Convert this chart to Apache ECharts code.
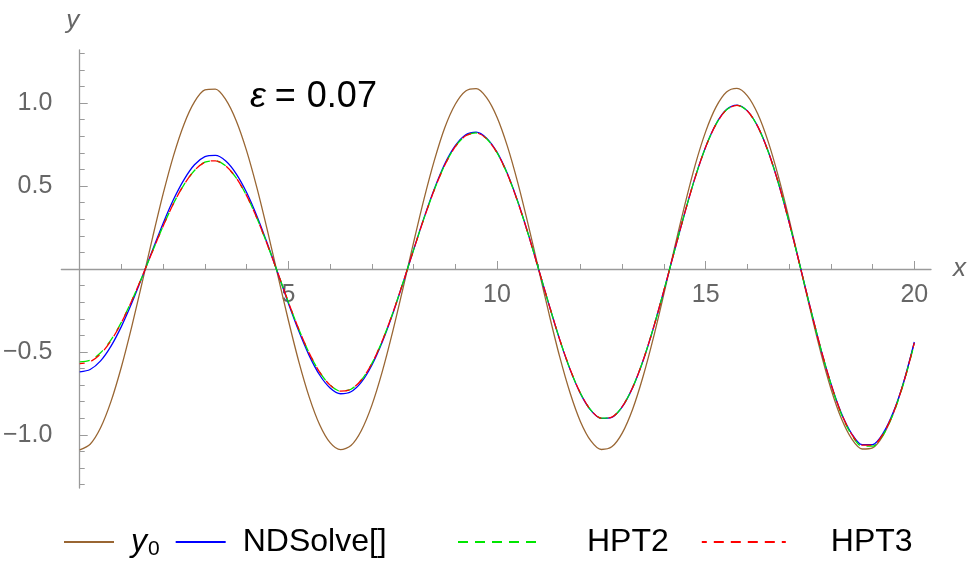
<!DOCTYPE html>
<html lang="en">
<head>
<meta charset="UTF-8">
<title>epsilon = 0.07</title>
<script src="https://cdn.jsdelivr.net/npm/echarts@6.0.0/dist/echarts.min.js"></script>
<style>
  html, body { margin: 0; padding: 0; background: #fff; }
  #main { width: 969px; height: 561px; }
</style>
</head>
<body>
<div id="main"></div>
<script>
// values, x step 0.25
var xs = [0, 0.25, 0.5, 0.75, 1, 1.25, 1.5, 1.75, 2, 2.25, 2.5, 2.75, 3, 3.25, 3.5, 3.75, 4, 4.25, 4.5, 4.75,
          5, 5.25, 5.5, 5.75, 6, 6.25, 6.5, 6.75, 7, 7.25, 7.5, 7.75, 8, 8.25, 8.5, 8.75, 9, 9.25, 9.5, 9.75,
          10, 10.25, 10.5, 10.75, 11, 11.25, 11.5, 11.75, 12, 12.25, 12.5, 12.75, 13, 13.25, 13.5, 13.75, 14, 14.25, 14.5, 14.75,
          15, 15.25, 15.5, 15.75, 16, 16.25, 16.5, 16.75, 17, 17.25, 17.5, 17.75, 18, 18.25, 18.5, 18.75, 19, 19.25, 19.5, 19.75, 20];
var y0 = [-1.090, -1.056, -0.957, -0.798, -0.589, -0.344, -0.077, 0.194, 0.454, 0.685,
          0.873, 1.007, 1.079, 1.084, 1.021, 0.894, 0.712, 0.486, 0.230, -0.041,
          -0.309, -0.558, -0.772, -0.939, -1.047, -1.089, -1.064, -0.973, -0.822, -0.619,
          -0.378, -0.113, 0.159, 0.421, 0.656, 0.853, 0.993, 1.073, 1.087, 1.033,
          0.915, 0.739, 0.518, 0.265, -0.005, -0.274, -0.527, -0.746, -0.920, -1.036,
          -1.088, -1.072, -0.989, -0.845, -0.648, -0.412, -0.149, 0.123, 0.387, 0.628,
          0.828, 0.977, 1.067, 1.089, 1.044, 0.934, 0.766, 0.550, 0.300, 0.031,
          -0.239, -0.495, -0.720, -0.900, -1.024, -1.085, -1.078, -1.004, -0.868, -0.678,
          -0.445];
var ndsolve = [-0.620, -0.606, -0.554, -0.465, -0.346, -0.204, -0.046, 0.117, 0.276, 0.420,
          0.539, 0.628, 0.677, 0.685, 0.651, 0.574, 0.461, 0.317, 0.151, -0.027,
          -0.206, -0.374, -0.522, -0.639, -0.717, -0.752, -0.740, -0.682, -0.580, -0.440,
          -0.271, -0.082, 0.115, 0.308, 0.484, 0.634, 0.743, 0.809, 0.825, 0.789,
          0.704, 0.574, 0.405, 0.209, -0.004, -0.219, -0.424, -0.605, -0.751, -0.852,
          -0.900, -0.894, -0.831, -0.715, -0.553, -0.354, -0.129, 0.107, 0.339, 0.554,
          0.736, 0.875, 0.961, 0.988, 0.953, 0.858, 0.708, 0.512, 0.281, 0.030,
          -0.226, -0.472, -0.690, -0.868, -0.993, -1.059, -1.058, -0.991, -0.861, -0.677,
          -0.440];
var hpt2 = [-0.560, -0.550, -0.505, -0.427, -0.320, -0.189, -0.043, 0.110, 0.259, 0.396,
          0.509, 0.594, 0.644, 0.652, 0.621, 0.549, 0.442, 0.305, 0.145, -0.026,
          -0.199, -0.363, -0.507, -0.622, -0.700, -0.736, -0.725, -0.669, -0.570, -0.433,
          -0.267, -0.080, 0.114, 0.305, 0.479, 0.627, 0.737, 0.803, 0.820, 0.785,
          0.701, 0.571, 0.403, 0.208, -0.004, -0.218, -0.423, -0.603, -0.749, -0.851,
          -0.899, -0.893, -0.830, -0.714, -0.552, -0.353, -0.129, 0.107, 0.339, 0.553,
          0.735, 0.873, 0.960, 0.986, 0.952, 0.858, 0.707, 0.512, 0.281, 0.030,
          -0.227, -0.472, -0.692, -0.874, -1.001, -1.068, -1.068, -1.001, -0.870, -0.684,
          -0.450];
var hpt3 = [-0.570, -0.559, -0.512, -0.432, -0.323, -0.190, -0.043, 0.110, 0.259, 0.396,
          0.509, 0.594, 0.644, 0.652, 0.621, 0.549, 0.442, 0.305, 0.145, -0.026,
          -0.199, -0.363, -0.507, -0.622, -0.700, -0.736, -0.725, -0.669, -0.570, -0.433,
          -0.267, -0.080, 0.114, 0.305, 0.479, 0.627, 0.737, 0.803, 0.820, 0.785,
          0.701, 0.571, 0.403, 0.208, -0.004, -0.218, -0.423, -0.603, -0.749, -0.851,
          -0.899, -0.893, -0.830, -0.714, -0.552, -0.353, -0.129, 0.107, 0.339, 0.553,
          0.735, 0.873, 0.960, 0.986, 0.952, 0.858, 0.707, 0.512, 0.281, 0.030,
          -0.227, -0.472, -0.691, -0.870, -0.996, -1.062, -1.062, -0.995, -0.865, -0.680,
          -0.445];

var xTicks = [0, 5, 10, 15, 20];
var xLabels = [5, 10, 15, 20];
var yTicks = [-1, -0.5, 0, 0.5, 1];
var yLabels = [-1, -0.5, 0.5, 1];

var font = "'Liberation Sans', Arial, sans-serif";
var axisGray = '#9a9a9a';
var labelGray = '#666666';

function pairs(ys) {
    return xs.map(function (x, i) { return [x, ys[i]]; });
}

var myChart = echarts.init(document.getElementById('main'));

function legendText(padLeft) {
    return {
        fontSize: 32,
        color: '#000',
        fontFamily: font,
        padding: [0, 0, 0, padLeft],
        rich: {
            i: { fontSize: 32, fontStyle: 'italic', fontFamily: font, color: '#000' },
            s: { fontSize: 21, fontFamily: font, color: '#000', padding: [14, 0, 0, 1] }
        }
    };
}
function legendFmt(name) {
    return name === 'y0' ? '{i|y}{s|0}' : name;
}

// x axis sits on y = 0: grid height 438, zero is 219px above the bottom
var zeroShift = -219;

option = {
    animation: false,
    title: {
        text: '{e|ε}{q|=}{n|0.07}',
        left: 250,
        top: 79,
        padding: 0,
        textStyle: {
            fontSize: 36,
            fontWeight: 'normal',
            color: '#000',
            fontFamily: font,
            rich: {
                e: { fontSize: 36, fontStyle: 'italic', color: '#000', fontFamily: font },
                q: { fontSize: 36, color: '#000', fontFamily: font, padding: [0, 11, 0, 9] },
                n: { fontSize: 36, color: '#000', fontFamily: font }
            }
        }
    },
    legend: [
        {
            data: ['y0', 'NDSolve[]'],
            left: 63,
            top: 526,
            padding: 0,
            itemWidth: 50,
            itemHeight: 14,
            itemGap: 15,
            itemStyle: { opacity: 0 },
            formatter: legendFmt,
            textStyle: legendText(12)
        },
        {
            data: ['HPT2', 'HPT3'],
            left: 457,
            top: 526,
            padding: 0,
            itemWidth: 84,
            itemHeight: 14,
            itemGap: 32,
            itemStyle: { opacity: 0 },
            formatter: legendFmt,
            textStyle: legendText(40)
        }
    ],
    grid: { left: 53, right: 36, top: 50, bottom: 73 },
    xAxis: {
        type: 'value',
        position: 'bottom',
        offset: zeroShift,
        min: -0.44,
        max: 20.4,
        splitNumber: 5,
        name: 'x',
        nameLocation: 'end',
        nameGap: 22,
        nameTextStyle: { fontSize: 26, fontStyle: 'italic', color: labelGray, fontFamily: font },
        axisLine: { onZero: false, lineStyle: { color: axisGray, width: 1.3 } },
        axisTick: { show: true, inside: true, length: 8, customValues: xTicks, lineStyle: { color: axisGray } },
        minorTick: { show: true, splitNumber: 5, length: 5, lineStyle: { color: axisGray } },
        axisLabel: { customValues: xLabels, fontSize: 25, color: labelGray, margin: 14, fontFamily: font },
        splitLine: { show: false }
    },
    yAxis: {
        type: 'value',
        min: -1.32,
        max: 1.32,
        splitNumber: 5,
        name: 'y',
        nameLocation: 'end',
        nameGap: 16,
        nameTextStyle: { fontSize: 26, fontStyle: 'italic', color: labelGray, fontFamily: font, padding: [0, 14, 0, 0] },
        axisLine: { show: true, onZero: true, lineStyle: { color: axisGray, width: 1.3 } },
        axisTick: { show: true, inside: true, length: 8, customValues: yTicks, lineStyle: { color: axisGray } },
        minorTick: { show: true, splitNumber: 5, length: 5, lineStyle: { color: axisGray } },
        axisLabel: {
            customValues: yLabels,
            fontSize: 25,
            color: labelGray,
            margin: 9,
            fontFamily: font,
            formatter: function (v) { return v.toFixed(1).replace('-', '\u2212'); }
        },
        splitLine: { show: false }
    },
    series: [
        {
            name: 'y0', type: 'line', data: pairs(y0), symbol: 'none', smooth: 0.3,
            lineStyle: { color: '#996633', width: 1.3 }, itemStyle: { color: '#996633' }
        },
        {
            name: 'NDSolve[]', type: 'line', data: pairs(ndsolve), symbol: 'none', smooth: 0.3,
            lineStyle: { color: '#0000ff', width: 1.3 }, itemStyle: { color: '#0000ff' }
        },
        {
            name: 'HPT2', type: 'line', data: pairs(hpt2), symbol: 'none', smooth: 0.3,
            lineStyle: { color: '#00e600', width: 1.3, type: [10, 7] }, itemStyle: { color: '#00e600' }
        },
        {
            name: 'HPT3', type: 'line', data: pairs(hpt3), symbol: 'none', smooth: 0.3,
            lineStyle: { color: '#ff0000', width: 1.3, type: [10, 7], dashOffset: 5 }, itemStyle: { color: '#ff0000' }
        }
    ]
};

myChart.setOption(option);
</script>
</body>
</html>
